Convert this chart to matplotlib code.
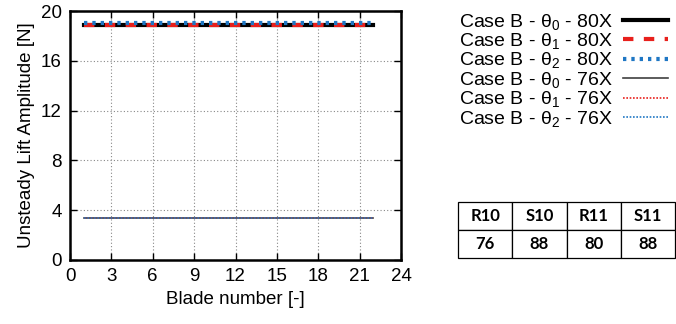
import matplotlib
matplotlib.use("Agg")
import matplotlib.pyplot as plt
from matplotlib.lines import Line2D

plt.rcParams['font.family'] = ['Liberation Sans', 'DejaVu Sans']
plt.rcParams['mathtext.fontset'] = 'custom'
plt.rcParams['mathtext.rm'] = 'Liberation Sans'
plt.rcParams['mathtext.it'] = 'Liberation Sans'

blades = list(range(1, 23))
theta0_80x = [18.88, 18.88, 18.88, 18.88, 18.88, 18.88, 18.88, 18.88, 18.88, 18.88, 18.88,
              18.88, 18.88, 18.88, 18.88, 18.88, 18.88, 18.88, 18.88, 18.88, 18.88, 18.88]
theta1_80x = [18.86, 18.86, 18.86, 18.86, 18.86, 18.86, 18.86, 18.86, 18.86, 18.86, 18.86,
              18.86, 18.86, 18.86, 18.86, 18.86, 18.86, 18.86, 18.86, 18.86, 18.86, 18.86]
theta2_80x = [19.06, 19.06, 19.06, 19.06, 19.06, 19.06, 19.06, 19.06, 19.06, 19.06, 19.06,
              19.06, 19.06, 19.06, 19.06, 19.06, 19.06, 19.06, 19.06, 19.06, 19.06, 19.06]
theta0_76x = [3.35, 3.35, 3.35, 3.35, 3.35, 3.35, 3.35, 3.35, 3.35, 3.35, 3.35,
              3.35, 3.35, 3.35, 3.35, 3.35, 3.35, 3.35, 3.35, 3.35, 3.35, 3.35]
theta1_76x = [3.35, 3.35, 3.35, 3.35, 3.35, 3.35, 3.35, 3.35, 3.35, 3.35, 3.35,
              3.35, 3.35, 3.35, 3.35, 3.35, 3.35, 3.35, 3.35, 3.35, 3.35, 3.35]
theta2_76x = [3.36, 3.36, 3.36, 3.36, 3.36, 3.36, 3.36, 3.36, 3.36, 3.36, 3.36,
              3.36, 3.36, 3.36, 3.36, 3.36, 3.36, 3.36, 3.36, 3.36, 3.36, 3.36]

series_labels = [
    r"Case B - $\theta_0$ - 80X",
    r"Case B - $\theta_1$ - 80X",
    r"Case B - $\theta_2$ - 80X",
    r"Case B - $\theta_0$ - 76X",
    r"Case B - $\theta_1$ - 76X",
    r"Case B - $\theta_2$ - 76X",
]
series_values = [theta0_80x, theta1_80x, theta2_80x, theta0_76x, theta1_76x, theta2_76x]
styles = [
    dict(color='black', lw=3.0, ls='-'),
    dict(color='#e8201c', lw=3.0, ls=(0, (2.5, 2.5))),
    dict(color='#1f77c4', lw=3.0, ls=(0, (0.8, 1.2))),
    dict(color='#404040', lw=1.2, ls='-'),
    dict(color='#e8201c', lw=1.2, ls=(0, (1, 1))),
    dict(color='#1f77c4', lw=1.2, ls=(0, (1, 1))),
]

table_cols = ["R10", "S10", "R11", "S11"]
table_vals = ["76", "88", "80", "88"]

fig = plt.figure(figsize=(6.76, 3.24), dpi=100)
ax = fig.add_axes([70 / 676, 64 / 324, 331 / 676, 249 / 324])

for vals, st in zip(series_values, styles):
    ax.plot(blades, vals, **st)

ax.set_xlim(0, 24)
ax.set_ylim(0, 20)
ax.set_xticks(range(0, 25, 3))
ax.set_yticks(range(0, 21, 4))
ax.grid(True, color='#888888', ls=(0, (1, 2)), lw=0.8)
ax.tick_params(direction='in', length=5, width=1, top=True, right=True, labelsize=13.5, pad=6)
for sp in ax.spines.values():
    sp.set_linewidth(1.8)
ax.set_xlabel("Blade number [-]", fontsize=13.5, labelpad=4)
ax.set_ylabel("Unsteady Lift Amplitude [N]", fontsize=13.5, labelpad=4)

handles = [Line2D([0], [0], **st) for st in styles]
fig.legend(handles, series_labels, loc='upper right', bbox_to_anchor=(1.005, 1.0),
           frameon=False, markerfirst=False, fontsize=14, handlelength=2.3,
           handletextpad=0.5, labelspacing=-0.03, borderaxespad=0.2)

tax = fig.add_axes([458 / 676, 66 / 324, 217 / 676, 56 / 324])
tax.axis('off')
tbl = tax.table(cellText=[table_cols, table_vals], cellLoc='center', bbox=[0, 0, 1, 1])
for cell in tbl.get_celld().values():
    cell.set_linewidth(0.9)
    cell.get_text().set_fontweight('bold')
    cell.get_text().set_fontfamily('Lato')
tbl.auto_set_font_size(False)
tbl.set_fontsize(12)

fig.savefig("out.png", dpi=100)
